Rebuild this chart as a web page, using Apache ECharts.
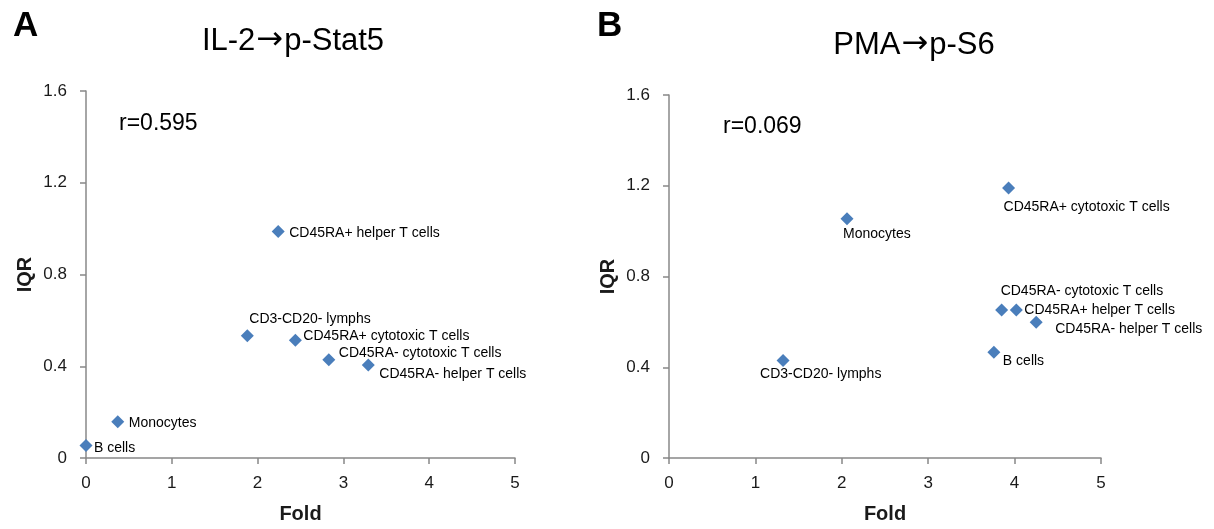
<!DOCTYPE html>
<html>
<head>
<meta charset="utf-8">
<script src="https://cdn.jsdelivr.net/npm/echarts@6/dist/echarts.min.js"></script>
<style>
html,body{margin:0;padding:0;background:#fff;}
#chart{width:1214px;height:529px;}
</style>
</head>
<body>
<div id="chart"></div>
<script>
// ---- Data ----
const cellTypesA = ['B cells','Monocytes','CD3-CD20- lymphs','CD45RA+ helper T cells','CD45RA+ cytotoxic T cells','CD45RA- cytotoxic T cells','CD45RA- helper T cells'];
const foldA = [0.0, 0.37, 1.88, 2.24, 2.44, 2.83, 3.29];
const iqrA  = [0.055, 0.158, 0.533, 0.988, 0.513, 0.428, 0.405];

const cellTypesB = ['CD3-CD20- lymphs','Monocytes','CD45RA+ cytotoxic T cells','CD45RA- cytotoxic T cells','CD45RA+ helper T cells','CD45RA- helper T cells','B cells'];
const foldB = [1.32, 2.06, 3.93, 3.85, 4.02, 4.25, 3.76];
const iqrB  = [0.430, 1.054, 1.190, 0.652, 0.652, 0.598, 0.466];

const xTicks = [0, 1, 2, 3, 4, 5];
const yTicks = [0, 0.4, 0.8, 1.2, 1.6];

const titleA = ['IL-2', '\u2192', 'p-Stat5'];
const titleB = ['PMA', '\u2192', 'p-S6'];
const corrA = 'r=0.595';
const corrB = 'r=0.069';

// ---- Label placement (offset of label's left-middle from point centre, px) ----
const labelOffsetA = [[8,3],[11,1],[2,-17],[11,2],[8,-4],[10,-7],[11,9]];
const labelOffsetB = [[-23,14],[-4,15],[-5,19],[-1,-19],[8,0],[19,7],[9,9]];

const MARK = '#4A7EBB';
const AXIS = '#888888';
const FONT = '"Liberation Sans", Arial, sans-serif';
const SYM = 13;

function buildData(xs, ys, names, offs) {
  return xs.map((x, i) => ({
    value: [x, ys[i]],
    name: names[i],
    label: {
      show: true,
      formatter: names[i],
      position: [offs[i][0] + SYM / 2, offs[i][1] + SYM / 2],
      align: 'left',
      verticalAlign: 'middle'
    }
  }));
}

function xAxisDef(gi) {
  return {
    type: 'value', gridIndex: gi, min: xTicks[0], max: xTicks[xTicks.length - 1], interval: 1,
    name: 'Fold', nameLocation: 'middle', nameGap: 46,
    nameTextStyle: { fontFamily: FONT, fontWeight: 'bold', fontSize: 20, color: '#1a1a1a' },
    axisLine: { show: true, onZero: false, lineStyle: { color: AXIS, width: 1.5 } },
    axisTick: { show: true, inside: false, length: 6, lineStyle: { color: AXIS, width: 1.5 } },
    axisLabel: { fontFamily: FONT, fontSize: 17, color: '#1a1a1a', margin: 17 },
    splitLine: { show: false }
  };
}
function yAxisDef(gi) {
  return {
    type: 'value', gridIndex: gi, min: yTicks[0], max: yTicks[yTicks.length - 1], interval: 0.4,
    name: 'IQR', nameLocation: 'middle', nameGap: 51, nameRotate: 90,
    nameTextStyle: { fontFamily: FONT, fontWeight: 'bold', fontSize: 20, color: '#1a1a1a' },
    axisLine: { show: true, onZero: false, lineStyle: { color: AXIS, width: 1.5 } },
    axisTick: { show: true, inside: false, length: 6, lineStyle: { color: AXIS, width: 1.5 } },
    axisLabel: { fontFamily: FONT, fontSize: 17, color: '#1a1a1a', margin: 19,
      formatter: v => (v === 0 ? '0' : v.toFixed(1)) },
    splitLine: { show: false }
  };
}

const titleRich = {
  t: { fontFamily: FONT, fontWeight: 'normal', fontSize: 31, color: '#000' },
  arr: { fontFamily: '"DejaVu Sans"', fontWeight: 'normal', fontSize: 32, color: '#000', padding: [0, 1, 0, 1] }
};
function titleText(parts) {
  return '{t|' + parts[0] + '}{arr|' + parts[1] + '}{t|' + parts[2] + '}';
}

const chart = echarts.init(document.getElementById('chart'), null, { renderer: 'canvas' });
chart.setOption({
  backgroundColor: '#fff',
  animation: false,
  title: [
    { text: 'A', left: 8, top: 4, textStyle: { fontFamily: FONT, fontWeight: 'bold', fontSize: 35, color: '#000' } },
    { text: 'B', left: 592, top: 4, textStyle: { fontFamily: FONT, fontWeight: 'bold', fontSize: 35, color: '#000' } },
    { text: titleText(titleA), left: 288, top: 20, textAlign: 'center', textStyle: { fontWeight: 'normal', fontFamily: FONT, rich: titleRich } },
    { text: titleText(titleB), left: 909, top: 24, textAlign: 'center', textStyle: { fontWeight: 'normal', fontFamily: FONT, rich: titleRich } },
    { text: corrA, left: 114, top: 107, textStyle: { fontFamily: FONT, fontWeight: 'normal', fontSize: 23, color: '#000' } },
    { text: corrB, left: 718, top: 110, textStyle: { fontFamily: FONT, fontWeight: 'normal', fontSize: 23, color: '#000' } }
  ],
  grid: [
    { left: 86, top: 91, width: 429, height: 367 },
    { left: 669, top: 95, width: 432, height: 363 }
  ],
  xAxis: [xAxisDef(0), xAxisDef(1)],
  yAxis: [yAxisDef(0), yAxisDef(1)],
  series: [
    {
      type: 'scatter', xAxisIndex: 0, yAxisIndex: 0, symbol: 'diamond', symbolSize: SYM,
      itemStyle: { color: MARK, opacity: 1 },
      label: { show: true, fontFamily: FONT, fontSize: 14, color: '#000' },
      labelLayout: { hideOverlap: false },
      data: buildData(foldA, iqrA, cellTypesA, labelOffsetA)
    },
    {
      type: 'scatter', xAxisIndex: 1, yAxisIndex: 1, symbol: 'diamond', symbolSize: SYM,
      itemStyle: { color: MARK, opacity: 1 },
      label: { show: true, fontFamily: FONT, fontSize: 14, color: '#000' },
      labelLayout: { hideOverlap: false },
      data: buildData(foldB, iqrB, cellTypesB, labelOffsetB)
    }
  ]
});
</script>
</body>
</html>
